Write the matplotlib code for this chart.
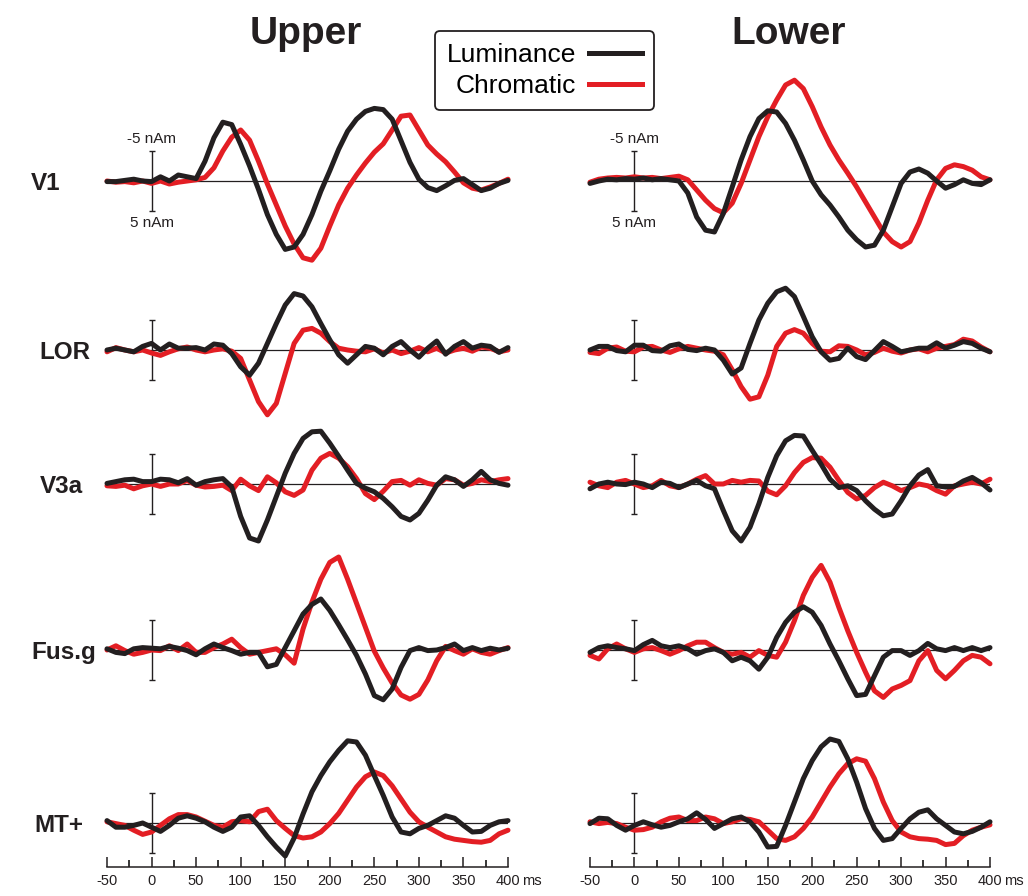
import matplotlib
matplotlib.use("Agg")
import matplotlib.pyplot as plt
from matplotlib.lines import Line2D

plt.rcParams['font.family'] = ['Liberation Sans', 'DejaVu Sans']

# sample times (ms) shared by every trace
time_ms = [-50, -40, -30, -20, -10, 0, 10, 20, 30, 40,
           50, 60, 70, 80, 90, 100, 110, 120, 130, 140,
           150, 160, 170, 180, 190, 200, 210, 220, 230, 240,
           250, 260, 270, 280, 290, 300, 310, 320, 330, 340,
           350, 360, 370, 380, 390, 400]

# source amplitude in nAm (negative is drawn upwards)
upper_v1_lum = [0.1, 0.1, -0.1, -0.3, 0.0, 0.1, -0.7, 0.0, -1.0, -0.7,
                -0.4, -3.3, -7.2, -9.8, -9.4, -6.1, -2.5, 1.4, 5.6, 8.9,
                11.4, 11.0, 8.9, 5.6, 1.7, -1.7, -5.3, -8.3, -10.3, -11.6,
                -12.1, -11.9, -10.3, -6.7, -3.1, -0.3, 1.1, 1.6, 0.8, -0.1,
                -0.4, 0.6, 1.6, 1.2, 0.4, -0.1]
upper_v1_chr = [0.0, 0.2, 0.1, 0.3, 0.0, 0.4, 0.0, 0.5, 0.2, 0.0,
                -0.2, -0.6, -2.2, -5.0, -7.3, -8.5, -6.8, -3.3, 0.5, 4.0,
                7.5, 10.5, 12.8, 13.2, 11.2, 7.5, 4.0, 1.2, -1.0, -3.0,
                -4.8, -6.2, -8.5, -10.8, -11.0, -8.5, -6.0, -4.5, -3.2, -1.5,
                0.3, 1.2, 1.5, 1.0, 0.4, -0.3]
lower_v1_lum = [0.4, 0.0, -0.3, -0.2, -0.4, -0.3, -0.5, -0.2, -0.4, -0.2,
                0.0, 2.0, 6.0, 8.2, 8.5, 5.4, 1.0, -3.5, -7.4, -10.4,
                -11.7, -11.5, -9.6, -6.8, -3.5, 0.0, 2.3, 4.0, 6.0, 8.2,
                9.8, 11.0, 10.7, 8.2, 4.3, 0.4, -1.5, -2.0, -1.3, 0.0,
                1.2, 0.6, -0.2, 0.4, 0.6, -0.2]
lower_v1_chr = [0.2, -0.3, -0.5, -0.6, -0.5, -0.7, -0.5, -0.6, -0.4, -0.6,
                -0.8, -0.2, 1.5, 3.2, 4.6, 5.3, 3.7, 0.4, -3.5, -7.4,
                -10.7, -13.5, -16.0, -16.8, -15.4, -12.4, -9.0, -6.0, -3.5, -1.3,
                1.0, 3.5, 6.0, 8.5, 10.1, 11.0, 10.1, 7.0, 3.2, -0.2,
                -2.1, -2.7, -2.4, -1.8, -0.7, -0.2]

upper_lor_lum = [0.0, -0.3, 0.0, 0.3, -0.6, -1.1, 0.0, -1.0, -0.3, -0.3,
                 -0.4, 0.0, -1.0, -0.8, 0.6, 2.8, 4.2, 2.2, -1.1, -4.4,
                 -7.5, -9.4, -9.0, -7.2, -4.4, -1.7, 0.8, 2.2, 0.8, -0.6,
                 -0.3, 0.8, -0.6, -1.4, 0.0, 1.2, -0.3, -1.5, 0.7, -0.6,
                 -1.4, -0.3, -0.8, -0.6, 0.4, -0.4]
upper_lor_chr = [0.3, -0.4, 0.0, 0.3, 0.0, 0.5, 0.9, 0.3, -0.2, -0.5,
                 0.0, 0.3, 0.0, -0.2, 0.2, 1.4, 5.0, 8.6, 10.8, 8.9,
                 3.9, -1.1, -3.3, -3.6, -2.8, -1.4, -0.3, 0.0, 0.2, 0.3,
                 -0.2, 0.5, 0.0, 0.6, 0.2, -0.4, 0.3, -0.3, 0.5, 0.0,
                 -0.3, 0.2, -0.5, -0.3, 0.3, 0.0]
lower_lor_lum = [0.0, -0.6, -0.6, 0.1, 0.3, -0.8, -0.8, 0.1, 0.2, -0.7,
                 -1.0, -0.1, 0.1, -0.3, 0.0, 1.7, 4.0, 3.0, -1.1, -5.0,
                 -7.8, -9.7, -10.3, -8.9, -5.6, -2.2, 0.3, 1.7, 1.4, -0.3,
                 1.1, 1.6, 0.1, -1.4, -0.6, 0.3, 0.0, -0.3, -0.3, -1.2,
                 -0.3, -0.8, -1.4, -1.1, -0.3, 0.3]
lower_lor_chr = [0.4, 0.6, -0.3, -0.5, 0.2, 0.3, -0.5, -0.6, 0.0, 0.4,
                 -0.2, -0.6, -0.3, 0.0, 0.2, 0.8, 3.3, 6.1, 8.2, 7.8,
                 4.2, -0.6, -2.8, -3.4, -2.8, -1.1, 0.2, 0.3, -0.7, -0.6,
                 0.0, 0.8, 0.4, -0.3, 0.2, 0.5, 0.0, -0.2, 0.3, -0.3,
                 -0.6, -0.9, -1.8, -1.5, -0.5, 0.3]

upper_v3a_lum = [-0.1, -0.4, -0.7, -0.8, -0.4, -0.4, -0.8, -0.7, -0.2, -0.9,
                 0.2, -0.4, -0.7, -0.9, 0.5, 5.4, 9.0, 9.5, 6.0, 2.1,
                 -1.8, -5.1, -7.6, -8.7, -8.8, -6.8, -4.6, -2.3, -0.1, 0.7,
                 1.3, 2.4, 3.8, 5.4, 6.0, 4.9, 2.7, 0.2, -1.2, -0.7,
                 0.4, -0.7, -2.1, -0.7, -0.1, 0.2]
upper_v3a_chr = [0.3, 0.4, 0.2, 0.8, 0.3, 0.0, 0.4, 0.0, 0.0, -0.6,
                 0.2, 0.5, 0.4, 0.2, 1.1, -0.8, 0.3, 1.1, -1.2, -0.2,
                 1.3, 1.9, 1.0, -2.3, -4.3, -5.1, -4.3, -2.9, -0.9, 1.6,
                 2.6, 1.2, -0.4, -0.6, 0.2, -0.7, -0.1, 0.2, -0.9, -0.7,
                 0.2, -0.1, -0.7, -0.4, -0.7, -0.9]
lower_v3a_lum = [0.8, 0.0, -0.3, 0.0, 0.1, -0.3, 0.0, 0.6, -0.3, -0.1,
                 0.6, 0.0, -0.6, 0.3, 0.8, 4.4, 7.8, 9.5, 7.2, 3.3,
                 -1.1, -4.7, -7.2, -8.1, -8.0, -5.6, -3.3, -0.8, 0.6, 0.3,
                 1.1, 2.8, 4.2, 5.3, 5.0, 2.8, 0.3, -1.5, -2.4, 0.3,
                 0.5, 0.4, -0.5, -1.1, -0.2, 1.0]
lower_v3a_chr = [-0.3, 0.3, 0.6, -0.3, -0.6, 0.0, 0.6, 0.3, -0.6, 0.3,
                 0.6, 0.0, -0.8, -1.4, 0.0, 0.0, -0.6, -0.3, -0.6, -0.5,
                 1.2, 1.8, 0.3, -1.9, -3.6, -4.4, -4.3, -2.8, -0.6, 1.4,
                 2.5, 1.9, 0.6, -0.3, 0.3, 1.1, 0.6, 0.0, 0.3, 1.1,
                 1.7, 0.3, 0.0, -0.3, 0.0, -0.8]

upper_fus_lum = [-0.2, 0.4, 0.6, -0.2, -0.4, -0.3, -0.2, -0.6, -0.3, 0.1,
                 0.8, -0.2, -1.0, -0.4, 0.1, 0.7, 0.4, 0.4, 2.8, 2.4,
                 -0.4, -3.2, -6.0, -7.6, -8.5, -6.6, -4.2, -1.7, 0.9, 4.0,
                 7.6, 8.3, 6.5, 2.9, 0.1, -0.4, 0.1, 0.0, -0.4, -1.0,
                 0.1, -0.4, 0.1, -0.3, 0.0, -0.3]
upper_fus_chr = [0.0, -0.7, 0.1, 0.7, 0.4, 0.0, 0.1, -0.7, 0.1, -1.0,
                 0.4, 0.4, -0.4, -1.0, -1.8, -0.4, 0.7, 0.4, 0.1, -0.2,
                 0.8, 2.2, -3.5, -8.0, -11.8, -14.6, -15.5, -11.8, -7.8, -3.8,
                 0.2, 3.0, 5.5, 7.5, 8.2, 7.4, 5.0, 1.8, -0.6, 0.1,
                 0.7, -0.2, 0.4, 0.7, 0.1, -0.4]
lower_fus_lum = [0.4, -0.4, -0.7, -0.4, -0.2, 0.1, -0.9, -1.6, -0.7, -0.4,
                 -0.7, -0.2, 0.7, 0.1, -0.2, 0.4, 1.8, 1.2, 1.8, 3.2,
                 1.2, -2.1, -4.6, -6.3, -7.2, -6.3, -4.1, -1.0, 1.8, 4.8,
                 7.6, 7.4, 4.3, 1.2, 0.1, 0.1, 0.9, 0.1, -1.1, -0.2,
                 0.1, -0.4, 0.1, -0.4, 0.1, -0.4]
lower_fus_chr = [0.9, 1.5, -0.2, -1.0, -0.2, 0.4, -0.2, -0.4, 0.1, 0.7,
                 0.1, -0.7, -1.3, -1.3, -0.4, 0.4, 0.7, 0.4, 1.2, 0.1,
                 0.9, 1.2, -1.3, -4.9, -9.1, -12.1, -14.1, -11.3, -7.1, -3.2,
                 0.4, 3.7, 6.8, 7.9, 6.5, 5.9, 5.1, 1.8, 0.1, 3.4,
                 4.8, 3.4, 1.8, 0.9, 1.2, 2.3]

upper_mt_lum = [-0.4, 0.7, 0.7, 0.4, 0.0, 0.7, 1.4, 0.4, -0.8, -1.2,
                -0.8, -0.2, 0.7, 1.4, 0.7, -1.0, -1.2, 0.4, 2.3, 4.0,
                5.5, 2.5, -1.5, -5.2, -7.9, -10.2, -12.1, -13.7, -13.5, -11.3,
                -7.9, -4.6, -1.0, 1.5, 1.8, 0.9, 0.4, -0.4, -1.2, -0.8,
                0.4, 1.5, 1.4, 0.4, -0.2, -0.4]
upper_mt_chr = [-0.2, 0.1, 0.4, 1.2, 1.9, 1.5, 0.4, -0.7, -1.4, -1.4,
                -1.0, -0.3, 0.4, 0.7, -0.2, -0.4, -0.2, -1.9, -2.3, -0.4,
                0.9, 2.1, 2.5, 2.3, 1.5, 0.1, -1.6, -3.8, -6.0, -7.7,
                -8.5, -7.9, -6.2, -4.0, -1.8, -0.2, 0.7, 1.5, 2.3, 2.7,
                2.9, 3.1, 3.2, 2.9, 1.8, 1.2]
lower_mt_lum = [0.1, -0.8, -0.7, 0.4, 1.2, 0.4, -0.2, 0.3, 0.7, 0.4,
                -0.2, -0.7, -1.7, -0.6, 0.9, 0.1, -0.7, -1.0, -0.2, 1.5,
                4.0, 3.9, 0.4, -3.5, -7.4, -10.4, -12.7, -14.0, -13.6, -10.7,
                -6.8, -2.4, 0.9, 2.9, 2.6, 0.9, -0.7, -1.8, -2.2, -0.7,
                0.4, 1.5, 1.8, 1.4, 0.7, -0.2]
lower_mt_chr = [-0.2, 0.1, -0.1, 0.1, 0.7, 1.2, 1.1, 0.7, -0.2, -0.8,
                -1.0, -0.4, -0.4, -1.0, -0.7, 0.1, -0.2, -0.7, -0.6, -0.2,
                1.2, 2.6, 2.9, 2.3, 0.9, -1.0, -3.5, -6.0, -8.2, -9.9,
                -10.7, -10.3, -7.4, -3.5, -0.4, 1.5, 2.3, 2.6, 2.7, 2.9,
                3.6, 3.4, 2.1, 1.2, 0.7, 0.3]

regions = ['V1', 'LOR', 'V3a', 'Fus.g', 'MT+']
columns = ['Upper', 'Lower']
tick_values = [-50, 0, 50, 100, 150, 200, 250, 300, 350, 400]
tick_labels = ['-50', '0', '50', '100', '150', '200', '250', '300', '350', '400']

traces = {
    ('Upper', 'V1'): (upper_v1_lum, upper_v1_chr),
    ('Lower', 'V1'): (lower_v1_lum, lower_v1_chr),
    ('Upper', 'LOR'): (upper_lor_lum, upper_lor_chr),
    ('Lower', 'LOR'): (lower_lor_lum, lower_lor_chr),
    ('Upper', 'V3a'): (upper_v3a_lum, upper_v3a_chr),
    ('Lower', 'V3a'): (lower_v3a_lum, lower_v3a_chr),
    ('Upper', 'Fus.g'): (upper_fus_lum, upper_fus_chr),
    ('Lower', 'Fus.g'): (lower_fus_lum, lower_fus_chr),
    ('Upper', 'MT+'): (upper_mt_lum, upper_mt_chr),
    ('Lower', 'MT+'): (lower_mt_lum, lower_mt_chr),
}

BLACK = '#231f20'
RED = '#e31e24'
W, H = 1028, 896

fig = plt.figure(figsize=(W / 100, H / 100), dpi=100)


def box(left, top, width, height):
    # pixel box (from top-left) -> figure fraction
    return [left / W, 1 - (top + height) / H, width / W, height / H]


col_left = {'Upper': 107, 'Lower': 590}
col_width = {'Upper': 401, 'Lower': 400}
col_title_x = {'Upper': 306, 'Lower': 789}
row_base = [181, 350, 484, 650, 823]
label_x = [31, 39, 40, 31, 34]
half = 108  # px above/below the zero line, 6 px per nAm

for col in columns:
    for r, region in enumerate(regions):
        ax = fig.add_axes(box(col_left[col], row_base[r] - half, col_width[col], 2 * half))
        ax.set_xlim(-50, 400)
        ax.set_ylim(18, -18)
        ax.axis('off')
        ax.patch.set_alpha(0)
        ax.axhline(0, color=BLACK, lw=0.9, zorder=1)
        ax.errorbar([0], [0], yerr=[5], color=BLACK, lw=1.0, capsize=2.5, capthick=1.0, zorder=2)
        lum, chrom = traces[(col, region)]
        ax.plot(time_ms, chrom, color=RED, lw=3.6, solid_joinstyle='round',
                solid_capstyle='round', clip_on=False, zorder=3)
        ax.plot(time_ms, lum, color=BLACK, lw=3.6, solid_joinstyle='round',
                solid_capstyle='round', clip_on=False, zorder=4)
        if r == 0:
            ax.text(0, -5.8, '-5 nAm', ha='center', va='bottom', fontsize=11, color=BLACK)
            ax.text(0, 5.9, '5 nAm', ha='center', va='top', fontsize=11, color=BLACK)

    # time axis
    axx = fig.add_axes(box(col_left[col], 857, col_width[col], 10))
    axx.set_xlim(-50, 400)
    axx.patch.set_alpha(0)
    for s in ['left', 'right', 'top']:
        axx.spines[s].set_visible(False)
    axx.spines['bottom'].set_linewidth(1.1)
    axx.spines['bottom'].set_color(BLACK)
    axx.set_yticks([])
    axx.set_xticks(tick_values)
    axx.set_xticklabels(tick_labels)
    axx.set_xticks([-25, 25, 75, 125, 175, 225, 275, 325, 375], minor=True)
    axx.tick_params(axis='x', which='major', direction='in', length=7, width=1.1,
                    pad=5, labelsize=10.5, colors=BLACK)
    axx.tick_params(axis='x', which='minor', direction='in', length=5, width=1.1)
    axx.annotate('ms', xy=(400, 0), xycoords=('data', 'axes fraction'),
                 xytext=(10, -5), textcoords='offset points',
                 ha='left', va='top', fontsize=10.5, color=BLACK)

    fig.text(col_title_x[col] / W, 1 - 44 / H, col, ha='center', va='baseline',
             fontsize=28, fontweight='bold', color=BLACK)

for r, region in enumerate(regions):
    fig.text(label_x[r] / W, 1 - (row_base[r] + 9) / H, region, ha='left', va='baseline',
             fontsize=17.5, fontweight='bold', color=BLACK)

handles = [Line2D([], [], color=BLACK, lw=3.6), Line2D([], [], color=RED, lw=3.6)]
leg = fig.legend(handles, ['Luminance', 'Chromatic'], loc='upper left',
                 bbox_to_anchor=(435 / W, 1 - 31 / H), markerfirst=False,
                 fontsize=19, frameon=True, fancybox=True, framealpha=1,
                 edgecolor=BLACK, borderpad=0.45, labelspacing=0.28,
                 handlelength=2.0, handletextpad=0.5, borderaxespad=0)
leg.get_frame().set_linewidth(1.3)

fig.savefig('out.png', dpi=100)
